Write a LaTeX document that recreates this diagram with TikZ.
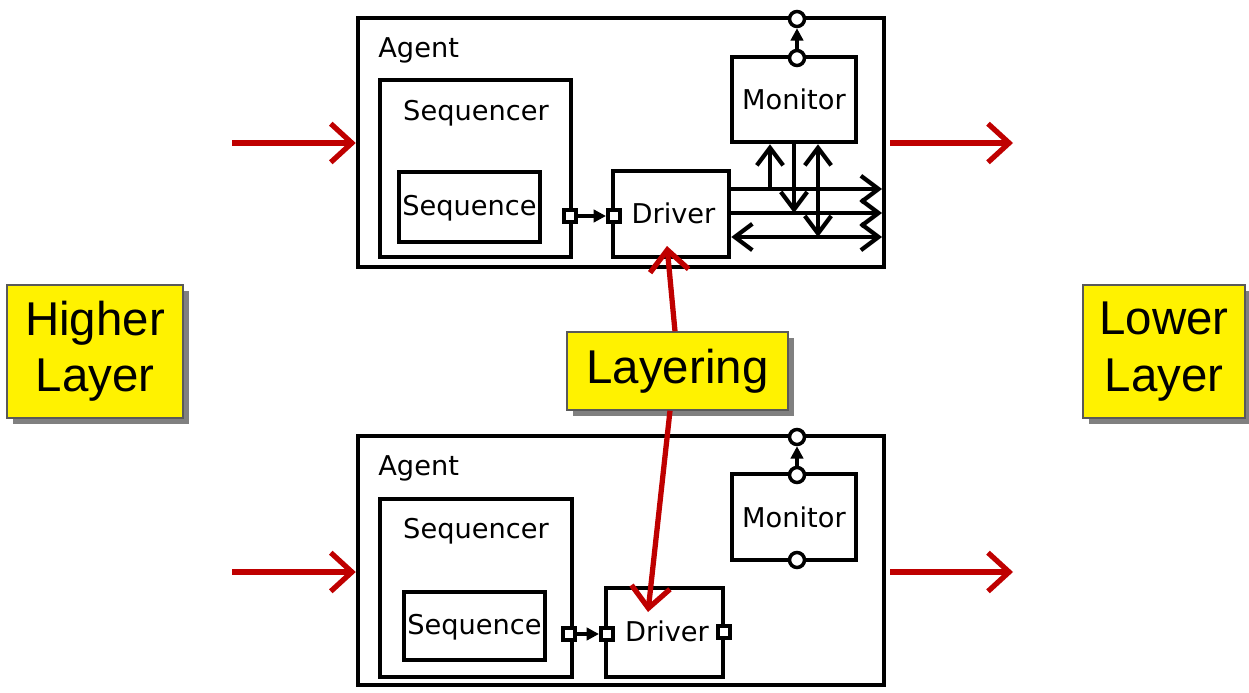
\documentclass[tikz,border=0pt]{standalone}
\usepackage{fontspec}
\setmainfont{DejaVu Sans}
\newfontfamily\layerfont{Liberation Sans}
\usepackage{tikz}
\usetikzlibrary{arrows.meta, shadows, positioning}

\begin{document}
\begin{tikzpicture}[x=0.02cm, y=-0.02cm]
\tikzstyle{blk}=[draw=black, line width=2.6pt, inner sep=0pt, font=\fontsize{15.5}{18}\selectfont]
\tikzstyle{txt}=[inner sep=0pt, font=\fontsize{15.5}{18}\selectfont]
\tikzstyle{port}=[draw=black, fill=white, line width=2pt, inner sep=0pt, minimum size=0.25cm]
\tikzstyle{pin}=[circle, draw=black, fill=white, line width=2pt, inner sep=0pt, minimum size=0.3cm]
\tikzstyle{note}=[draw=gray!70!black, line width=0.8pt, fill=yellow, align=center,
  font=\layerfont\fontsize{27}{32}\selectfont,
  drop shadow={shadow xshift=0.12cm, shadow yshift=-0.12cm, fill=gray, opacity=1}]
\tikzstyle{bus}=[line width=2.4pt]
\tikzstyle{fwd}=[-{Straight Barb[length=10pt,width=15pt]}]
\tikzstyle{both}=[{Straight Barb[length=10pt,width=15pt]}-{Straight Barb[length=10pt,width=15pt]}]
\tikzstyle{tip}=[line width=2pt, -{Triangle[length=7pt,width=7pt]}]
\tikzstyle{flow}=[draw=red!75!black, line width=3pt, -{Straight Barb[length=12pt,width=22pt]}]
\useasboundingbox (0,0) rectangle (1249,693);

% upper agent
\node[blk, minimum width=10.52cm, minimum height=4.98cm] (agentA) at (621,142.5) {};
\node[txt, anchor=west] (agentAt) at (378,50) {Agent};
\node[blk, minimum width=3.82cm, minimum height=3.54cm] (seqrA) at (475.5,168.5) {};
\node[txt] (seqrAt) at (476,113) {Sequencer};
\node[blk, minimum width=2.82cm, minimum height=1.4cm, text depth=0.05cm] (seqA) at (469.5,207) {Sequence};
\node[blk, minimum width=2.32cm, minimum height=1.72cm, text depth=0.05cm] (drvA) at (671,214) {\hspace{0.1cm}Driver};
\node[blk, minimum width=2.48cm, minimum height=1.7cm] (monA) at (794,99.5) {Monitor};
\node[port] (pA1) at (570,216) {};
\node[port] (pA2) at (614,216) {};
\node[pin] (cA1) at (797,19) {};
\node[pin] (cA2) at (797,58) {};
\draw[tip] (pA1) -- (pA2);
\draw[tip] (cA2) -- (cA1);

% bus between driver, monitor and the agent edge
\coordinate (bA1) at (882,189);
\coordinate (bA2) at (882,213);
\coordinate (bA3) at (882,237);
\draw[bus, fwd] (drvA.east |- bA1) -- (bA1);
\draw[bus, fwd] (drvA.east |- bA2) -- (bA2);
\draw[bus, both] (drvA.east |- bA3) -- (bA3);
\coordinate (mA1) at (770,189);
\coordinate (mA2) at (794,213);
\coordinate (mA3) at (818,237);
\draw[bus, fwd] (mA1) -- (monA.south -| mA1);
\draw[bus, fwd] (monA.south -| mA2) -- (mA2);
\draw[bus, both] (monA.south -| mA3) -- (mA3);

% lower agent
\node[blk, minimum width=10.52cm, minimum height=4.98cm] (agentB) at (621,560.5) {};
\node[txt, anchor=west] (agentBt) at (378,468) {Agent};
\node[blk, minimum width=3.84cm, minimum height=3.56cm] (seqrB) at (476,588) {};
\node[txt] (seqrBt) at (476,531) {Sequencer};
\node[blk, minimum width=2.82cm, minimum height=1.36cm, text depth=0.05cm] (seqB) at (474.5,626) {Sequence};
\node[blk, minimum width=2.34cm, minimum height=1.78cm, text depth=0.05cm] (drvB) at (664.5,632.5) {\hspace{0.1cm}Driver};
\node[blk, minimum width=2.48cm, minimum height=1.72cm] (monB) at (794,517) {Monitor};
\node[port] (pB1) at (569,634) {};
\node[port] (pB2) at (607,634) {};
\node[port] (pB3) at (724,632) {};
\node[pin] (cB1) at (797,437) {};
\node[pin] (cB2) at (797,475) {};
\node[pin] (cB3) at (797,560) {};
\draw[tip] (pB1) -- (pB2);
\draw[tip] (cB2) -- (cB1);

% layers
\node[note, minimum width=3.52cm, minimum height=2.66cm] (hi) at (95,351.5) {Higher\\Layer};
\node[note, minimum width=3.24cm, minimum height=2.66cm] (lo) at (1164,351.5) {Lower\\Layer};
\node[note, minimum width=4.42cm, minimum height=1.56cm] (lay) at (677.5,371) {Layering};

% flow arrows
\coordinate (inA) at (232,143);
\coordinate (outA) at (1013,143);
\coordinate (inB) at (232,572);
\coordinate (outB) at (1013,572);
\coordinate (upA) at (667,246);
\coordinate (dnB) at (648,612);
\draw[flow] (inA) -- (agentA.west |- inA);
\draw[flow] (agentA.east |- outA) ++(4,0) -- (outA);
\draw[flow] (inB) -- (agentB.west |- inB);
\draw[flow] (agentB.east |- outB) ++(4,0) -- (outB);
\draw[flow] (lay.north -| 675,0) -- (upA);
\draw[flow] (lay.south -| 670,0) -- (dnB);
\end{tikzpicture}
\end{document}
